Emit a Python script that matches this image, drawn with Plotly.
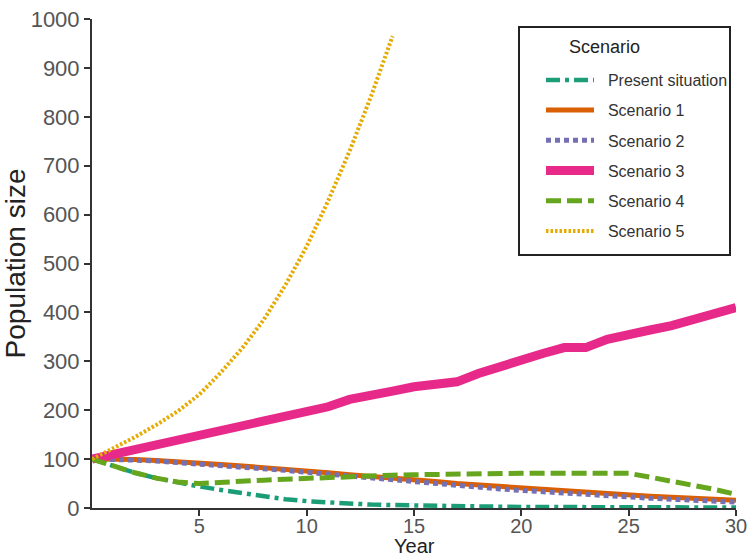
import plotly.graph_objects as go

years = list(range(0, 31))
years_s5 = list(range(0, 15))

present = [100, 85, 72, 61, 52, 44, 37, 30, 24, 18, 14, 11, 9, 7, 6, 5, 4, 4, 3, 3, 2, 2, 2, 2, 1, 1, 1, 1, 1, 1, 1]
scenario1 = [100, 100, 99, 97, 95, 93, 89, 86, 83, 80, 76, 72, 68, 65, 61, 57, 54, 50, 47, 43, 40, 37, 34, 31, 29, 27, 24, 22, 20, 18, 16]
scenario2 = [100, 100, 98, 96, 93, 91, 87, 84, 80, 77, 73, 69, 65, 61, 57, 54, 50, 46, 43, 39, 36, 33, 30, 27, 25, 22, 20, 18, 16, 14, 12]
scenario3 = [100, 110, 120, 130, 141, 151, 160, 170, 180, 190, 199, 207, 222, 229, 239, 248, 251, 258, 275, 290, 301, 316, 328, 328, 345, 356, 364, 373, 385, 400, 410]
scenario4 = [100, 85, 72, 61, 53, 50, 53, 55, 57, 59, 61, 62, 64, 65, 67, 68, 69, 70, 71, 71, 71, 71, 71, 71, 71, 71, 63, 55, 47, 38, 28]
scenario5 = [100, 122, 145, 170, 198, 232, 277, 327, 385, 455, 535, 628, 730, 842, 965]

names = ["Present situation", "Scenario 1", "Scenario 2", "Scenario 3", "Scenario 4", "Scenario 5"]
xs = [years, years, years, years, years, years_s5]
ys = [present, scenario1, scenario2, scenario3, scenario4, scenario5]
colors = ["#1b9e77", "#d95f02", "#7570b3", "#e7298a", "#66a61e", "#e6ab02"]
widths = [4.5, 5, 5, 9, 5, 4]
dashes = ["14px,5px,4px,5px", "solid", "5px,4px", "solid", "15px,6px", "2.5px,2px"]

FONT = "Liberation Sans, Arial, Helvetica, sans-serif"

# plot-area geometry (pixels) used to place legend box / titles
W, H = 752, 558
ML, MR, MT, MB = 92, 16, 19, 50
PW, PH = W - ML - MR, H - MT - MB

def px_x(p):
    return (p - ML) / PW

def px_y(p):
    return (H - MB - p) / PH

fig = go.Figure()
for n, x, y, c, w, d in zip(names, xs, ys, colors, widths, dashes):
    fig.add_trace(go.Scatter(
        x=x, y=y, mode="lines", name="\u00a0\u00a0" + n, legendgroup=n,
        line=dict(color=c, width=w, dash=d),
    ))

# legend frame and title
fig.add_shape(type="rect", xref="paper", yref="paper",
              x0=px_x(519), x1=px_x(730), y0=px_y(255), y1=px_y(27),
              line=dict(color="#222222", width=2), fillcolor="white", layer="above")
fig.add_annotation(xref="paper", yref="paper", x=px_x(567), y=px_y(47),
                   xanchor="left", yanchor="middle", showarrow=False,
                   text="Scenario", font=dict(family=FONT, size=18, color="#222222"))
# x-axis title
fig.add_annotation(xref="paper", yref="paper", x=0.5, y=px_y(546),
                   xanchor="center", yanchor="middle", showarrow=False, borderpad=0,
                   text="Year", font=dict(family=FONT, size=20, color="#222222"))

fig.update_layout(
    width=W, height=H,
    margin=dict(l=ML, r=MR, t=MT, b=MB),
    paper_bgcolor="white", plot_bgcolor="white",
    font=dict(family=FONT, color="#333333"),
    showlegend=True,
    legend=dict(
        x=px_x(541), y=px_y(63), xanchor="left", yanchor="top",
        borderwidth=0, bgcolor="rgba(0,0,0,0)",
        font=dict(family=FONT, size=16, color="#333333"),
        traceorder="grouped", tracegroupgap=6.4,
        itemwidth=48,
    ),
    xaxis=dict(
        range=[0, 30], tickvals=[5, 10, 15, 20, 25, 30],
        showline=True, linecolor="#333333", linewidth=2,
        ticks="outside", ticklen=6, tickwidth=2, tickcolor="#333333",
        showgrid=False, zeroline=False, automargin=False,
        ticklabelstandoff=-7,
        tickfont=dict(family=FONT, size=20, color="#555555"),
    ),
    yaxis=dict(
        range=[0, 1000], dtick=100,
        showline=True, linecolor="#333333", linewidth=2,
        ticks="outside", ticklen=6, tickwidth=2, tickcolor="#333333",
        showgrid=False, zeroline=False, automargin=False,
        tickfont=dict(family=FONT, size=22, color="#555555"),
        title=dict(text="Population size", font=dict(family=FONT, size=28, color="#222222"), standoff=0),
    ),
)

fig.write_html("out.html", config={"displayModeBar": False},
               post_script="document.body.style.margin='0';")
